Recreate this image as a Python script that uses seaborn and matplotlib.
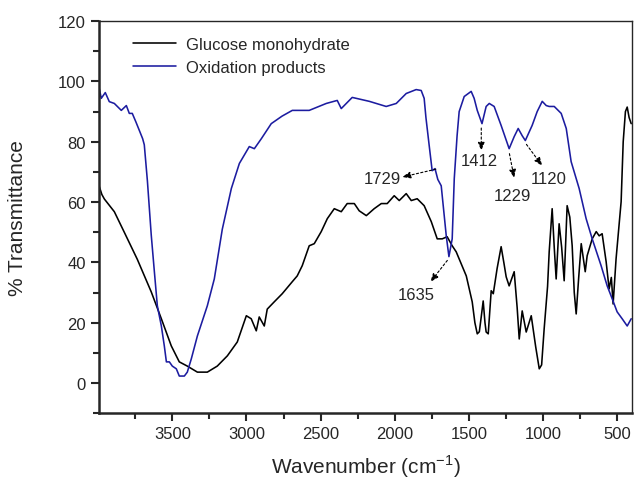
import numpy as np
import pandas as pd
import matplotlib
matplotlib.use("Agg")
import matplotlib.pyplot as plt
import seaborn as sns

# FTIR spectra (wavenumber cm-1, % transmittance)
glucose_wn = [3992, 3975, 3958, 3891, 3824, 3736, 3642, 3574, 3507, 3453, 3399, 3331, 3264,
              3197, 3129, 3062, 3001, 2968, 2934, 2914, 2880, 2860, 2813, 2759, 2691,
              2658, 2624, 2577, 2543, 2496, 2455, 2408, 2361, 2321, 2273, 2240, 2192,
              2139, 2091, 2051, 2004, 1970, 1923, 1889, 1849, 1802, 1754, 1714, 1680,
              1647, 1613, 1586, 1518, 1478, 1460, 1444, 1430, 1417, 1404, 1392, 1384,
              1370, 1350, 1336, 1310, 1283, 1265, 1249, 1229, 1195, 1175, 1161, 1141,
              1114, 1080, 1050, 1026, 1010, 993, 970, 959, 939, 925, 912, 892, 875, 858,
              838, 820, 804, 790, 777, 760, 743, 716, 703, 669, 642, 622, 602, 575, 555,
              540, 528, 508, 474, 460, 445, 433, 420, 406]
glucose_t = [65.1, 62.5, 61.0, 56.8, 50.0, 41.0, 30.2, 21.3, 12.3, 7.0, 5.6, 3.6, 3.6,
             5.6, 9.0, 13.6, 22.3, 21.3, 17.3, 21.9, 18.9, 24.5, 26.9, 29.6, 33.6,
             35.5, 38.9, 45.5, 46.2, 50.2, 54.5, 57.8, 56.8, 59.5, 59.5, 57.1, 55.5,
             57.8, 59.5, 59.5, 62.1, 60.5, 62.8, 60.5, 61.1, 58.8, 53.5, 47.8, 47.8,
             48.5, 45.5, 43.5, 35.5, 26.9, 20.0, 16.3, 17.0, 22.0, 27.2, 20.0, 16.9,
             16.3, 30.6, 29.6, 38.0, 45.2, 40.0, 35.2, 32.2, 36.9, 25.0, 14.6, 23.9,
             16.9, 22.3, 12.0, 4.7, 6.0, 17.9, 32.0, 43.5, 57.8, 45.0, 34.5, 52.8, 45.0,
             33.9, 58.8, 55.0, 45.5, 30.0, 22.9, 35.0, 46.2, 36.9, 42.2, 47.8, 50.2,
             48.8, 49.5, 40.2, 31.2, 35.0, 26.2, 41.2, 60.1, 80.0, 90.0, 91.5, 88.0, 86.0]

oxid_wn = [3992, 3979, 3952, 3925, 3891, 3844, 3810, 3790, 3770, 3745, 3722, 3700, 3689,
           3668, 3642, 3621, 3601, 3574, 3554, 3540, 3520, 3500, 3473, 3453, 3419, 3399,
           3372, 3331, 3264, 3217, 3163, 3102, 3048, 2981, 2947, 2900, 2833, 2760, 2691,
           2577, 2462, 2388, 2361, 2287, 2172, 2058, 1990, 1923, 1856, 1822, 1802, 1790,
           1768, 1748, 1729, 1710, 1687, 1653, 1635, 1613, 1599, 1580, 1566, 1532, 1485,
           1465, 1444, 1412, 1384, 1363, 1330, 1283, 1229, 1195, 1168, 1141, 1120, 1074,
           1040, 1006, 979, 959, 925, 878, 844, 811, 757, 710, 669, 609, 568, 534,
           501, 467, 433, 406]
oxid_t = [97.5, 94.4, 96.3, 93.3, 92.7, 90.4, 92.0, 89.4, 89.4, 86.5, 83.7, 81.0, 79.0,
          67.0, 49.0, 36.9, 25.6, 18.9, 12.3, 7.0, 7.0, 5.6, 4.7, 2.3, 2.3, 3.6,
          8.0, 15.6, 25.6, 34.5, 51.0, 64.5, 72.8, 78.4, 77.7, 81.0, 86.0, 88.5, 90.4,
          90.4, 92.7, 93.7, 91.0, 94.7, 93.4, 91.7, 92.7, 96.0, 97.3, 97.0, 94.4, 88.0,
          78.7, 70.4, 71.1, 67.5, 65.4, 48.8, 41.9, 47.8, 67.8, 82.0, 90.0, 95.0, 96.7,
          94.4, 90.4, 86.0, 91.7, 92.7, 91.7, 85.4, 77.7, 81.7, 84.4, 82.0, 80.4, 85.4,
          90.0, 93.4, 92.0, 91.7, 91.7, 89.4, 84.4, 73.4, 64.5, 54.5, 47.8, 38.9,
          32.2, 27.9, 23.6, 21.3, 18.9, 21.3]

# peak labels: text, arrow start (on the band), arrow end, text centre
peak_labels = ["1729", "1635", "1412", "1229", "1120"]
peak_xy = [(1714, 71.0), (1640, 41.0), (1417, 85.0), (1229, 76.5), (1118, 79.5)]
arrow_end = [(1950, 68.3), (1760, 33.5), (1417, 77.0), (1195, 68.0), (1006, 72.0)]
label_xy = [(2085, 67.8), (1856, 29.2), (1430, 73.7), (1209, 62.1), (960, 67.8)]

sns.set_style("ticks")
plt.rcParams['font.family'] = ['Liberation Sans', 'DejaVu Sans']
plt.rcParams['mathtext.fontset'] = 'custom'
plt.rcParams['mathtext.rm'] = 'Liberation Sans'

df_g = pd.DataFrame({"wn": glucose_wn, "t": glucose_t})
df_o = pd.DataFrame({"wn": oxid_wn, "t": oxid_t})

fig = plt.figure(figsize=(6.34, 4.81), dpi=100)
ax = fig.add_axes([0.156, 0.139, 0.841, 0.815])

sns.lineplot(data=df_g, x="wn", y="t", ax=ax, color="black", lw=1.15,
             estimator=None, sort=False, label="Glucose monohydrate")
sns.lineplot(data=df_o, x="wn", y="t", ax=ax, color="#1c1ca0", lw=1.15,
             estimator=None, sort=False, label="Oxidation products")

for txt, (px, py), (ex, ey), (tx, ty) in zip(peak_labels, peak_xy, arrow_end, label_xy):
    ax.annotate("", xy=(ex, ey), xytext=(px, py),
                arrowprops=dict(arrowstyle="-|>,head_length=0.5,head_width=0.2",
                                linestyle=(0, (2, 2)), lw=0.8, color="black",
                                shrinkA=1, shrinkB=0))
    ax.text(tx, ty, txt, fontsize=12, ha="center", va="center")

ax.set_xlim(3995, 400)
ax.set_ylim(-10, 120)
ax.set_xticks([3500, 3000, 2500, 2000, 1500, 1000, 500])
ax.set_xticks(np.arange(3750, 400, -500), minor=True)
ax.set_yticks([0, 20, 40, 60, 80, 100, 120])
ax.set_yticks(np.arange(-10, 121, 20), minor=True)
ax.tick_params(axis="both", which="major", labelsize=12, length=6, width=1.5, direction="out")
ax.tick_params(axis="both", which="minor", length=4, width=1.5, direction="out")
for side in ["left", "bottom"]:
    ax.spines[side].set_linewidth(1.8)
for side in ["top", "right"]:
    ax.spines[side].set_visible(True)
    ax.spines[side].set_linewidth(1.0)

ax.set_xlabel("Wavenumber (cm$^{-1}$)", fontsize=15, labelpad=8)
ax.set_ylabel("% Transmittance", fontsize=15, labelpad=22)

ax.legend(loc="upper left", bbox_to_anchor=(0.035, 0.997), frameon=False,
          fontsize=12, handlelength=2.6, labelspacing=0.45, handletextpad=0.6)

fig.savefig("out.png", dpi=100)
